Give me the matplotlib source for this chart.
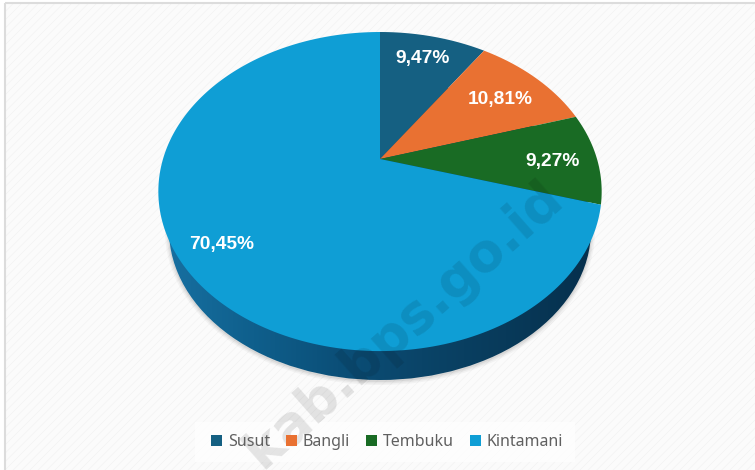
"""Pie chart with a tilted 3D look, shares per district."""
import matplotlib
matplotlib.use("Agg")
import matplotlib.pyplot as plt
import numpy as np
from matplotlib.colors import LinearSegmentedColormap
from matplotlib.patches import Ellipse, Patch, Rectangle

categories = ["Susut", "Bangli", "Tembuku", "Kintamani"]
shares = [9.47, 10.81, 9.27, 70.45]
labels = ["9,47%", "10,81%", "9,27%", "70,45%"]

COLORS = ["#156082", "#E97132", "#196B24", "#0F9ED5"]
LABEL_POS = [(423, 58.5), (500, 99.5), (553, 161.5), (222, 244.5)]

APEX = (380, 159)
RX, RY, TILT = 217, 152.9, 0.204


def project(angle):
    # clockwise from 12 o'clock, circle seen in perspective
    x, y = np.sin(angle), np.cos(angle)
    d = 1 + TILT * y
    return APEX[0] + RX * x / d, APEX[1] - RY * y / d


def main():
    plt.rcParams["hatch.linewidth"] = 0.4
    fig = plt.figure(figsize=(7.55, 4.7), dpi=100)
    fig.patch.set_facecolor("#ffffff")
    ax = fig.add_axes([0, 0, 1, 1])
    ax.set_xlim(0, 755)
    ax.set_ylim(470, 0)
    ax.axis("off")

    # card with faint diagonal weave
    ax.add_patch(Rectangle((5, 3), 760, 480, facecolor="#fbfbfb", edgecolor="#f1f1f1", lw=0.01, hatch="////", zorder=0))
    ax.add_patch(Rectangle((5, 3), 760, 480, facecolor="none", edgecolor="#dcdcdc", lw=1.5, zorder=0))
    ax.add_patch(Rectangle((195, 422), 380, 40, facecolor="#ffffff", alpha=0.7, lw=0, zorder=1))

    # soft shadow under the base
    for grow, alpha in [(4, 0.05), (2.5, 0.07), (1, 0.1)]:
        ax.add_patch(Ellipse((380, 231), 2 * 211 + grow * 2, 2 * 150 + grow * 2, facecolor="#555555", alpha=alpha, lw=0, zorder=2))

    # side of the disc: horizontal gradient clipped to the base ellipse
    side = LinearSegmentedColormap.from_list("side", ["#176fa0", "#0f5f8c", "#0b4f78", "#0a4468", "#083a5a", "#06304d"])
    grad = ax.imshow(np.linspace(0, 1, 256)[None, :], cmap=side, extent=(169, 591, 380, 80), aspect="auto", zorder=3)
    base = Ellipse((380, 230), 2 * 211, 2 * 150, facecolor="none", lw=0, zorder=3)
    ax.add_patch(base)
    grad.set_clip_path(base)
    ax.set_xlim(0, 755)
    ax.set_ylim(470, 0)

    # top face, wedges from cumulative shares
    edges = np.cumsum([0] + shares) / sum(shares) * 2 * np.pi
    for start, stop, color in zip(edges[:-1], edges[1:], COLORS):
        t = np.linspace(start, stop, 200)
        xs, ys = project(t)
        ax.fill(np.r_[APEX[0], xs], np.r_[APEX[1], ys], color=color, lw=0, zorder=4)

    # site watermark runs over everything but the text
    ax.text(556, 190, "kab.bps.go.id", rotation=41.5, rotation_mode="anchor", ha="right", va="center",
            family="DejaVu Sans", weight="bold", fontsize=38, color="#000000", alpha=0.10, zorder=5)

    for (x, y), text in zip(LABEL_POS, labels):
        ax.text(x, y, text, ha="center", va="center", family="Liberation Sans", weight="bold",
                fontsize=13.8, color="#ffffff", zorder=6)

    handles = [Patch(facecolor=c, label=n) for c, n in zip(COLORS, categories)]
    leg = ax.legend(handles=handles, ncol=4, loc="center", bbox_to_anchor=(387, 442),
                    bbox_transform=ax.transData, frameon=False, prop={"family": "Noto Sans", "size": 11.5},
                    handlelength=0.68, handleheight=0.7, handletextpad=0.35, columnspacing=1.02, labelcolor="#606060")
    leg.set_zorder(6)

    fig.savefig("out.png", dpi=100)


if __name__ == "__main__":
    main()
